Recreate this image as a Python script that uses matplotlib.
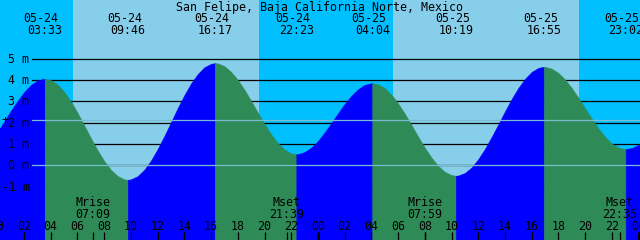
import matplotlib
matplotlib.use("Agg")
import matplotlib.pyplot as plt
import numpy as np

title = "San Felipe, Baja California Norte, Mexico"

# Tide height (m) read every half hour; hour 0 = 05-24 00:00
hours = [i * 0.5 for i in range(98)]
heights = [1.56, 2.04, 2.54, 3.01, 3.43, 3.76, 3.98, 4.06, 4.00, 3.79,
           3.45, 3.00, 2.47, 1.88, 1.28, 0.71, 0.20, -0.21, -0.50, -0.66,
           -0.66, -0.51, -0.21, 0.22, 0.76, 1.37, 2.02, 2.68, 3.29, 3.84,
           4.28, 4.60, 4.76, 4.78, 4.65, 4.38, 4.01, 3.54, 3.02, 2.47,
           1.94, 1.45, 1.04, 0.74, 0.56, 0.52, 0.62, 0.83, 1.14, 1.54,
           1.98, 2.44, 2.88, 3.26, 3.57, 3.77, 3.85, 3.80, 3.62, 3.31,
           2.90, 2.42, 1.89, 1.34, 0.82, 0.36, -0.03, -0.31, -0.46, -0.48,
           -0.36, -0.10, 0.29, 0.77, 1.33, 1.92, 2.53, 3.11, 3.63, 4.06,
           4.38, 4.57, 4.62, 4.53, 4.33, 4.02, 3.62, 3.16, 2.67, 2.18,
           1.72, 1.33, 1.02, 0.83, 0.76, 0.81, 0.96, 1.21]

# High / low tide events
ext_dates = ["05-24", "05-24", "05-24", "05-24", "05-25", "05-25", "05-25", "05-25"]
ext_times = ["03:33", "09:46", "16:17", "22:23", "04:04", "10:19", "16:55", "23:02"]
ext_heights = [4.06, -0.68, 4.79, 0.52, 3.85, -0.49, 4.62, 0.76]
ext_kind = ["high", "low", "high", "low", "high", "low", "high", "low"]

# Sun events (sunrise / sunset)
sun_dates = ["05-24", "05-24", "05-25", "05-25"]
sun_times = ["05:40", "19:36", "05:37", "19:34"]

# Moon events
moon_names = ["Mrise", "Mset", "Mrise", "Mset"]
moon_dates = ["05-24", "05-24", "05-25", "05-25"]
moon_times = ["07:09", "21:39", "07:59", "22:35"]

y_levels = [-1, 0, 1, 2, 3, 4, 5]
mean_level = 2.11

NIGHT = "#00BFFF"
DAY = "#87CEEB"
RISE = "#0000FF"
FALL = "#2E8B57"
LIGHT = "#79BCCF"

DAY0 = {"05-24": 0, "05-25": 24}


def to_h(d, t):
    hh, mm = t.split(":")
    return DAY0[d] + int(hh) + int(mm) / 60.0


PXH = 13.36          # pixels per hour
PXM = 21.32          # pixels per metre
X0 = 2.7 / PXH
X1 = 642.7 / PXH
YMAX = 165.3 / PXM
YMIN = -(240 - 165.3) / PXM

plt.rcParams["font.family"] = ["DejaVu Sans Mono"]
FS = 8.4

fig = plt.figure(figsize=(6.4, 2.4), dpi=100)
ax = fig.add_axes([0, 0, 1, 1])
ax.set_xlim(X0, X1)
ax.set_ylim(YMIN, YMAX)
ax.axis("off")
xt = ax.get_xaxis_transform()


def yfrac(ypx):
    return 1 - ypx / 240.0


# background day / night
sun_h = [to_h(d, t) for d, t in zip(sun_dates, sun_times)]
edges = [X0 - 1] + sun_h + [X1 + 1]
for i in range(len(edges) - 1):
    ax.axvspan(edges[i], edges[i + 1], color=NIGHT if i % 2 == 0 else DAY, lw=0, zorder=0)

# black level lines
for v in y_levels:
    ax.axhline(v, xmin=32 / 640, xmax=1, color="black", lw=0.9, zorder=1)

# tide fill
ext_h = [to_h(d, t) for d, t in zip(ext_dates, ext_times)]
t_all = np.array(hours + ext_h, dtype=float)
h_all = np.array(heights + ext_heights, dtype=float)
order = np.argsort(t_all)
t_all = t_all[order]
h_all = h_all[order]
bounds = [-1e9] + ext_h + [1e9]
for i in range(len(bounds) - 1):
    a, b = bounds[i], bounds[i + 1]
    m = (t_all >= a - 1e-9) & (t_all <= b + 1e-9)
    if i < len(ext_kind):
        rising = ext_kind[i] == "high"
    else:
        rising = ext_kind[-1] == "low"
    c = RISE if rising else FALL
    ax.fill_between(t_all[m], h_all[m], YMIN, color=c, lw=0.4, edgecolor=c, zorder=2)

# light lines (datum and mean level)
for v in [0, mean_level]:
    ax.axhline(v, xmin=32 / 640, xmax=1, color=LIGHT, lw=0.9, zorder=3)

# y labels
for v in y_levels:
    ax.text(29.5 / 640, v - 4 / PXM, f"{v} m", transform=ax.get_yaxis_transform(),
            ha="right", va="baseline", fontsize=FS, color="black", zorder=5)
ax.text(5 / 640, mean_level - 4 / PXM, "+", transform=ax.get_yaxis_transform(),
        ha="center", va="baseline", fontsize=FS, color="black", zorder=5)

# title
ax.text(0.5, 1 - 10.5 / 240, title, transform=ax.transAxes, ha="center",
        va="baseline", fontsize=FS, color="black", zorder=5)

# tide event labels
for d, t, th in zip(ext_dates, ext_times, ext_h):
    ax.text(th - 3.5 / PXH, yfrac(22), d, transform=xt, ha="center", va="baseline",
            fontsize=FS, zorder=5)
    ax.text(th, yfrac(34), t, transform=xt, ha="center", va="baseline",
            fontsize=FS, zorder=5)

# moon labels
moon_h = [to_h(d, t) for d, t in zip(moon_dates, moon_times)]
for n, t, mh in zip(moon_names, moon_times, moon_h):
    ax.text(mh, yfrac(206), n, transform=xt, ha="center", va="baseline",
            fontsize=FS, zorder=5)
    ax.text(mh, yfrac(217.5), t, transform=xt, ha="center", va="baseline",
            fontsize=FS, zorder=5)

# hour tick labels and tick marks
for hr in range(0, 49, 2):
    ax.text(hr, yfrac(229.5), f"{hr % 24:02d}", transform=xt, ha="center",
            va="baseline", fontsize=FS, zorder=5)
    thick = hr % 24 == 0
    ax.plot([hr, hr], [0, 8 / 240], transform=xt, color="black",
            lw=2.2 if thick else 0.9, zorder=5, solid_capstyle="butt")
for mh in moon_h:
    ax.plot([mh, mh], [0, 8 / 240], transform=xt, color="black", lw=0.9, zorder=5,
            solid_capstyle="butt")

fig.savefig("out.png", dpi=100)
